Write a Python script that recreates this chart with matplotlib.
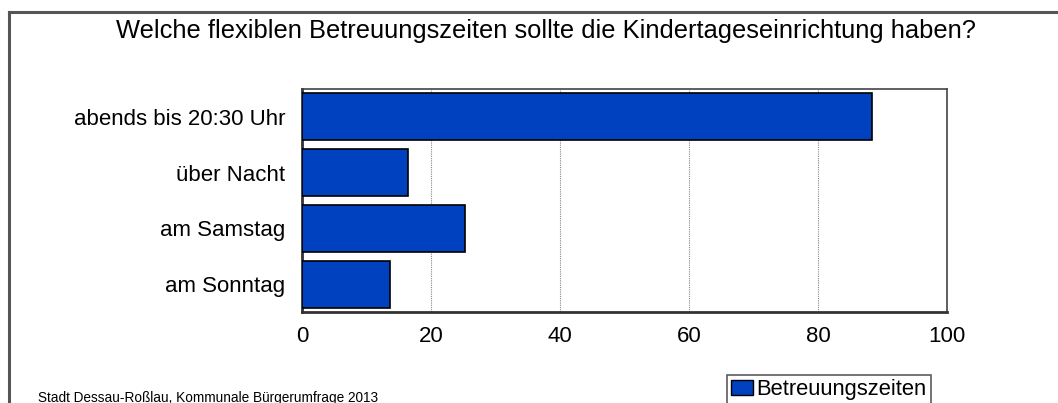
import matplotlib
matplotlib.use("Agg")
import matplotlib.pyplot as plt
from matplotlib.patches import Rectangle

categories = ["abends bis 20:30 Uhr", "über Nacht", "am Samstag", "am Sonntag"]
values = [88.4, 16.4, 25.3, 13.6]
xticks = [0, 20, 40, 60, 80, 100]
series_name = "Betreuungszeiten"
title = "Welche flexiblen Betreuungszeiten sollte die Kindertageseinrichtung haben?"
source = "Stadt Dessau-Roßlau, Kommunale Bürgerumfrage 2013"

plt.rcParams["font.family"] = ["Liberation Sans", "DejaVu Sans"]
BLUE = "#0041BF"

fig = plt.figure(figsize=(10.58, 4.03), dpi=100)

# outer chart frame (only top and left visible in the crop)
fig.add_artist(plt.Line2D([9 / 1058, 1], [1 - 12 / 403] * 2, color="#555555", lw=2.2))
fig.add_artist(plt.Line2D([9 / 1058] * 2, [0, 1 - 12 / 403], color="#555555", lw=2.2))

ax = fig.add_axes([302 / 1058, 1 - 312 / 403, (947 - 302) / 1058, (312 - 89) / 403])
ypos = list(range(len(categories)))
ax.barh(ypos, values, height=0.84, color=BLUE, edgecolor="black", linewidth=1.2,
        label=series_name, zorder=3)
ax.set_yticks(ypos)
ax.set_yticklabels(categories, fontsize=16)
ax.set_ylim(len(categories) - 0.5, -0.5)
ax.set_xlim(0, 100)
ax.set_xticks(xticks)
ax.set_xticklabels([str(v) for v in xticks], fontsize=16)
ax.tick_params(length=0, pad=12)
ax.tick_params(axis="x", pad=10)
ax.xaxis.grid(True, color="#888888", lw=0.8, ls=(0, (1, 1)), zorder=0)
for side in ("top", "right"):
    ax.spines[side].set_color("#444444")
    ax.spines[side].set_linewidth(1.2)
for side in ("left", "bottom"):
    ax.spines[side].set_color("#333333")
    ax.spines[side].set_linewidth(2)

fig.text(546 / 1058, 1 - 31 / 403, title, ha="center", va="center", fontsize=18.4)
fig.text(38 / 1058, 1 - 398 / 403, source, ha="left", va="center", fontsize=9.8)

leg = fig.legend(handles=[Rectangle((0, 0), 1, 1, facecolor=BLUE, edgecolor="black", lw=1)],
                 labels=[series_name], loc="upper left",
                 bbox_to_anchor=(727 / 1058, 1 - 375 / 403), fontsize=15.8,
                 frameon=True, fancybox=False, borderpad=0.2, handlelength=1.0,
                 handleheight=0.7, handletextpad=0.15, borderaxespad=0)
leg.get_frame().set_edgecolor("#333333")
leg.get_frame().set_linewidth(1.2)

fig.savefig("out.png", dpi=100)
